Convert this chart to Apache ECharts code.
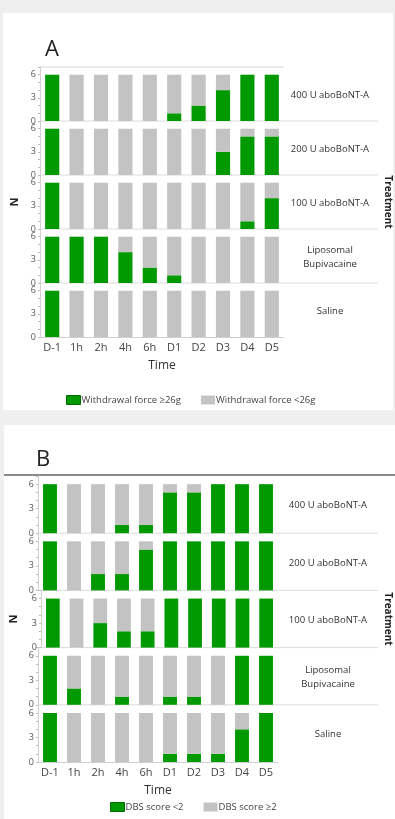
<!DOCTYPE html>
<html>
<head>
    <meta charset="utf-8" />
    <title>Withdrawal force / DBS score</title>
    <script src="https://cdn.jsdelivr.net/npm/echarts@6/dist/echarts.min.js"></script>
    <style>
        html, body { margin: 0; padding: 0; background: #efefef; }
        #main { width: 395px; height: 819px; }
    </style>
</head>
<body>
    <div id="main"></div>
<script>
    // categories
    var times = ['D-1', '1h', '2h', '4h', '6h', 'D1', 'D2', 'D3', 'D4', 'D5'];
    var treatments = ['400 U aboBoNT-A', '200 U aboBoNT-A', '100 U aboBoNT-A', 'Liposomal\nBupivacaine', 'Saline'];
    var yTicks = [0, 3, 6];

    // panel A: withdrawal force, N per time point (rows follow treatments)
    var aGreen = [
        [6, 0, 0, 0, 0, 1, 2, 4, 6, 6],
        [6, 0, 0, 0, 0, 0, 0, 3, 5, 5],
        [6, 0, 0, 0, 0, 0, 0, 0, 1, 4],
        [6, 6, 6, 4, 2, 1, 0, 0, 0, 0],
        [6, 0, 0, 0, 0, 0, 0, 0, 0, 0]
    ];
    var aGrey = [
        [0, 6, 6, 6, 6, 5, 4, 2, 0, 0],
        [0, 6, 6, 6, 6, 6, 6, 3, 1, 1],
        [0, 6, 6, 6, 6, 6, 6, 6, 5, 2],
        [0, 0, 0, 2, 4, 5, 6, 6, 6, 6],
        [0, 6, 6, 6, 6, 6, 6, 6, 6, 6]
    ];

    // panel B: DBS score
    var bGreen = [
        [6, 0, 0, 1, 1, 5, 5, 6, 6, 6],
        [6, 0, 2, 2, 5, 6, 6, 6, 6, 6],
        [6, 0, 3, 2, 2, 6, 6, 6, 6, 6],
        [6, 2, 0, 1, 0, 1, 1, 0, 6, 6],
        [6, 0, 0, 0, 0, 1, 1, 1, 4, 6]
    ];
    var bGrey = [
        [0, 6, 6, 5, 5, 1, 1, 0, 0, 0],
        [0, 6, 4, 4, 1, 0, 0, 0, 0, 0],
        [0, 6, 3, 4, 4, 0, 0, 0, 0, 0],
        [0, 4, 6, 5, 6, 5, 5, 6, 0, 0],
        [0, 6, 6, 6, 6, 5, 5, 5, 2, 0]
    ];

    var GREEN = '#009a00';
    var GREY = '#c3c3c3';
    var FONT = 'Open Sans';

    var panels = [
        { key: 'A', green: aGreen, grey: aGrey, left: 40, width: 244, top: 67, rowH: 54,
          names: ['Withdrawal force \u226526g', 'Withdrawal force <26g'],
          labelX: 330, treatX: 388, nGap: 20, legendLeft: 66, legendTop: 395 },
        { key: 'B', green: bGreen, grey: bGrey, left: 38, width: 240, top: 476, rowH: 57.2,
          names: ['DBS score <2', 'DBS score \u22652'],
          labelX: 328, treatX: 388, nGap: 22, legendLeft: 110, legendTop: 802 }
    ];

    var myChart = echarts.init(document.getElementById('main'));

    var grids = [], xAxes = [], yAxes = [], series = [], legends = [];
    var graphics = [
        // white cards
        { type: 'rect', z: -10, shape: { x: 3, y: 13, width: 390, height: 397 }, style: { fill: '#fff' } },
        { type: 'rect', z: -10, shape: { x: 4, y: 425, width: 391, height: 394 }, style: { fill: '#fff' } },
        // panel letters
        { type: 'text', x: 45, y: 39, style: { text: 'A', fontSize: 22, fontFamily: FONT, fill: '#222' } },
        { type: 'text', x: 36, y: 449, style: { text: 'B', fontSize: 22, fontFamily: FONT, fill: '#222' } },
        // top rules
        { type: 'line', shape: { x1: 40, y1: 67, x2: 284, y2: 67 }, style: { stroke: '#d8d8d8', lineWidth: 1 } },
        { type: 'line', shape: { x1: 4, y1: 475, x2: 395, y2: 475 }, style: { stroke: '#8a8a8a', lineWidth: 2 } }
    ];

    panels.forEach(function (p) {
        for (var r = 0; r < treatments.length; r++) {
            var gi = grids.length;
            var top = p.top + r * p.rowH;
            var last = r === treatments.length - 1;
            grids.push({ left: p.left, width: p.width, top: top, height: p.rowH });
            xAxes.push({
                type: 'category',
                gridIndex: gi,
                data: times,
                axisTick: { show: false },
                axisLine: { show: last, lineStyle: { color: '#d0d0d0' } },
                axisLabel: { show: last, fontSize: 11, color: '#444', fontFamily: FONT, margin: 5 },
                name: last ? 'Time' : '',
                nameLocation: 'middle',
                nameGap: 23,
                nameTextStyle: { fontSize: 12, color: '#333', fontFamily: FONT }
            });
            yAxes.push({
                type: 'value',
                gridIndex: gi,
                min: 0,
                max: 7,
                interval: 1,
                splitLine: { show: false },
                axisLine: { show: true, lineStyle: { color: '#d0d0d0' } },
                axisTick: { show: true, length: 2, lineStyle: { color: '#bbb' } },
                axisLabel: {
                    fontSize: 9, color: '#555', fontFamily: FONT, margin: 4,
                    formatter: function (v) { return yTicks.indexOf(v) >= 0 ? v : ''; }
                },
                name: r === 2 ? 'N' : '',
                nameLocation: 'middle',
                nameGap: p.nGap,
                nameTextStyle: { fontSize: 11, fontWeight: 'bold', color: '#222', fontFamily: FONT }
            });
            series.push({
                name: p.names[0], type: 'bar', stack: p.key + r,
                xAxisIndex: gi, yAxisIndex: gi, barWidth: '58%',
                data: p.green[r],
                itemStyle: { color: GREEN, borderWidth: 0 }
            });
            series.push({
                name: p.names[1], type: 'bar', stack: p.key + r,
                xAxisIndex: gi, yAxisIndex: gi, barWidth: '58%',
                data: p.grey[r],
                itemStyle: { color: GREY, borderWidth: 0 }
            });
            // row separator (extends under the row label)
            if (!last) {
                graphics.push({ type: 'line',
                    shape: { x1: p.left, y1: top + p.rowH, x2: 378, y2: top + p.rowH },
                    style: { stroke: '#dcdcdc', lineWidth: 1 } });
            }
            graphics.push({ type: 'text', x: p.labelX, y: top + p.rowH / 2 + 1,
                style: { text: treatments[r], align: 'center', verticalAlign: 'middle',
                    fontSize: 9.5, lineHeight: 14, fontFamily: FONT, fill: '#333' } });
        }
        graphics.push({ type: 'text', x: p.treatX, y: p.top + p.rowH * 2.5, rotation: -Math.PI / 2,
            style: { text: 'Treatment', align: 'center', verticalAlign: 'middle',
                fontSize: 10, fontWeight: 'bold', fontFamily: FONT, fill: '#222' } });
        legends.push({
            data: [
                { name: p.names[0], itemStyle: { color: GREEN, borderColor: '#006a00', borderWidth: 1 } },
                { name: p.names[1], itemStyle: { color: GREY, borderWidth: 0 } }
            ],
            icon: 'rect',
            left: p.legendLeft,
            top: p.legendTop,
            itemWidth: 14,
            itemHeight: 9,
            itemGap: 20,
            padding: 0,
            selectedMode: false,
            textStyle: { fontSize: 9.5, color: '#444', fontFamily: FONT, padding: [0, 0, 0, -4] }
        });
    });

    var option = {
        animation: false,
        textStyle: { fontFamily: FONT },
        grid: grids,
        xAxis: xAxes,
        yAxis: yAxes,
        legend: legends,
        graphic: graphics,
        series: series
    };

    myChart.setOption(option);
</script>
</body>
</html>
